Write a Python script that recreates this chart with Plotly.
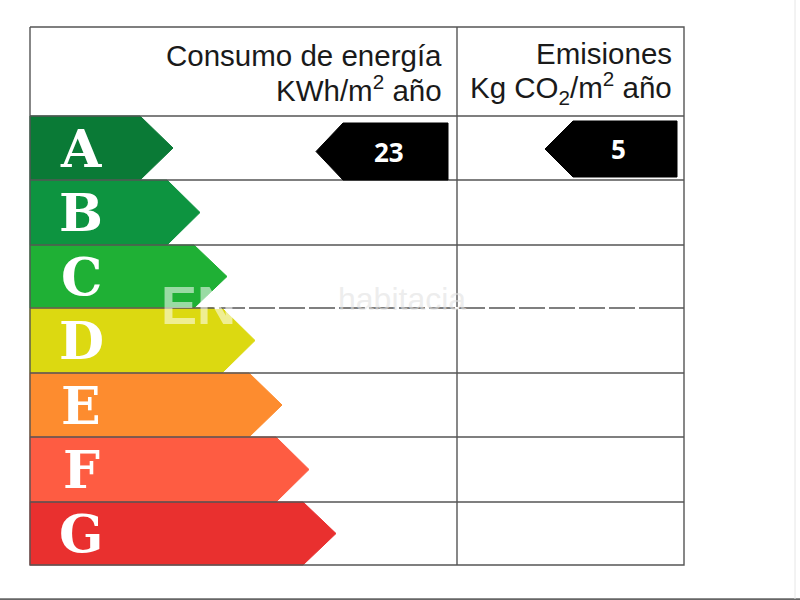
import plotly.graph_objects as go

# row data, top to bottom
letters = ["A", "B", "C", "D", "E", "F", "G"]
arrow_tips = [173, 200, 227, 255, 282, 309, 336]
colors = ["#0a7a36", "#0d9440", "#1fb035", "#dcd911", "#fd8c2f", "#fe5c42", "#e9302f"]
row_edges = [116, 180, 245, 308, 373, 437, 502, 565]
left, mid, right, top = 30, 457, 684, 27
point = 33

# black value markers: value, tip, shoulder, right end, top, bottom
energy = dict(value="23", tip=316, shoulder=343, end=448, y0=123, y1=180)
emissions = dict(value="5", tip=545, shoulder=573, end=677, y0=121, y1=177)

line_col = "#555555"
fig = go.Figure()


def add_line(xs, ys, col=line_col, width=1.4, dash=None):
    fig.add_trace(go.Scatter(x=xs, y=ys, mode="lines", hoverinfo="skip",
                             line=dict(color=col, width=width, dash=dash)))


# --- rating arrows ---
for i, letter in enumerate(letters):
    y0, y1 = row_edges[i], row_edges[i + 1]
    tip = arrow_tips[i]
    fig.add_trace(go.Scatter(
        x=[left, tip - point, tip, tip - point, left, left],
        y=[y0, y0, (y0 + y1) / 2, y1, y1, y0],
        mode="lines", fill="toself", fillcolor=colors[i],
        line=dict(color=colors[i], width=1), hoverinfo="skip"))
    fig.add_annotation(x=81, y=(y0 + y1) / 2, text=f"<b>{letter}</b>", showarrow=False,
                       font=dict(family="DejaVu Serif", size=52, color="white"))

# grid goes over the arrows, the row lines show between them
add_line([left, right, right, left, left], [top, top, row_edges[-1], row_edges[-1], top])
add_line([mid, mid], [top, row_edges[-1]])
for e in row_edges[:-1]:
    add_line([left, right], [e, e])

# --- value markers ---
for m in (energy, emissions):
    ym = (m["y0"] + m["y1"]) / 2
    fig.add_trace(go.Scatter(
        x=[m["tip"], m["shoulder"], m["end"], m["end"], m["shoulder"], m["tip"]],
        y=[ym, m["y0"], m["y0"], m["y1"], m["y1"], ym],
        mode="lines", fill="toself", fillcolor="black",
        line=dict(color="black", width=1), hoverinfo="skip"))
    fig.add_annotation(x=(m["shoulder"] + m["end"]) / 2 - 7, y=ym, text=f"<b>{m['value']}</b>",
                       showarrow=False, font=dict(family="Open Sans", size=26, color="white"))

# --- header text ---
header = [
    (444, 55, "Consumo de energía"),
    (444, 88, "KWh/m<sup>2</sup> año"),
    (674, 53, "Emisiones"),
    (674, 88, "Kg CO<sub>2</sub>/m<sup>2</sup> año"),
]
for x, y, txt in header:
    fig.add_annotation(x=x, y=y, text=txt, showarrow=False, xanchor="right",
                       font=dict(family="Liberation Sans", size=29.5, color="#1a1a1a"))

# --- watermark ---
fig.add_annotation(x=159, y=305, text="<b>EN</b>", showarrow=False, xanchor="left",
                   font=dict(family="Liberation Sans", size=54, color="rgba(255,255,255,0.55)"))
fig.add_annotation(x=336, y=299, text="habitacia", showarrow=False, xanchor="left",
                   font=dict(family="Liberation Sans", size=32, color="rgba(225,225,225,0.6)"))
add_line([215, 640], [308, 308], col="white", width=2, dash="4px 26px")

# page edge bands
add_line([0, 800], [599.5, 599.5], col="#666666", width=2.5)
add_line([795, 795], [0, 599], col="#e6e6e6", width=1)

fig.update_layout(
    width=800, height=600, autosize=False, showlegend=False,
    margin=dict(l=0, r=0, t=0, b=0),
    paper_bgcolor="white", plot_bgcolor="white",
    xaxis=dict(range=[0, 800], visible=False, fixedrange=True),
    yaxis=dict(range=[600, 0], visible=False, fixedrange=True),
)
fig.write_html("out.html", config={"displayModeBar": False},
               post_script="document.body.style.margin = '0';")
